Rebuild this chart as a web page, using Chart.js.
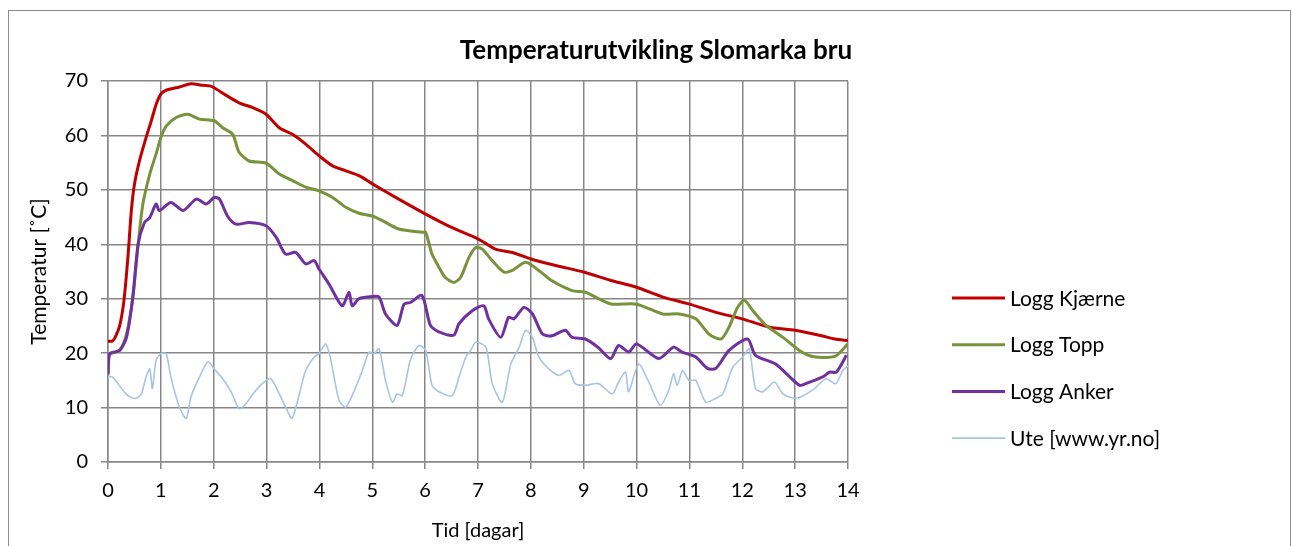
<!DOCTYPE html>
<html lang="no">
<head>
<meta charset="UTF-8">
<title>Temperaturutvikling Slomarka bru</title>
<script src="https://cdn.jsdelivr.net/npm/chart.js@4/dist/chart.umd.min.js"></script>
<style>
  html, body { margin: 0; padding: 0; background: #fff; }
  #wrap { position: relative; width: 1293px; height: 546px; }
</style>
</head>
<body>
<div id="wrap"><canvas id="chart" width="1293" height="546"></canvas></div>
<script>
// [dag, temperatur]
var kjarne = [[0,22.2],[0.08,22.2],[0.13,22.8],[0.22,25],[0.3,29.5],[0.38,38],[0.44,46],[0.5,51],[0.6,55.5],[0.72,59.6],[0.82,62.7],[0.91,65.7],[1.0,67.6],[1.1,68.3],[1.35,68.9],[1.57,69.5],[1.79,69.2],[1.92,69.1],[2.0,68.8],[2.23,67.4],[2.48,66],[2.74,65.1],[2.99,63.9],[3.24,61.4],[3.49,60.2],[3.74,58.4],[4.0,56.2],[4.25,54.4],[4.5,53.5],[4.75,52.6],[5.0,51.1],[5.5,48.3],[6.0,45.6],[6.5,43.1],[7.0,41.0],[7.33,39.1],[7.65,38.5],[8.0,37.3],[8.47,36.1],[9.0,34.9],[9.5,33.4],[10.0,32.1],[10.5,30.3],[11.0,29],[11.5,27.5],[12.0,26.3],[12.5,24.8],[13.0,24.2],[13.5,23.2],[13.75,22.6],[14.0,22.3]];
var topp = [[0,15.9],[0.02,19.5],[0.06,19.9],[0.22,20.5],[0.35,23.5],[0.47,30.3],[0.57,40],[0.66,47.4],[0.79,52.9],[0.91,56.6],[1.0,59.6],[1.1,61.7],[1.29,63.3],[1.51,63.9],[1.73,63],[2.01,62.7],[2.17,61.4],[2.36,60.2],[2.48,56.9],[2.67,55.3],[2.99,54.9],[3.24,52.9],[3.49,51.7],[3.74,50.5],[3.99,49.8],[4.25,48.6],[4.5,46.8],[4.75,45.7],[5.0,45.2],[5.2,44.3],[5.5,42.8],[5.95,42.2],[6.01,42.2],[6.13,38.2],[6.26,35.8],[6.38,33.9],[6.54,33],[6.67,33.9],[6.83,37.6],[6.96,39.4],[7.08,39.1],[7.27,37],[7.49,34.9],[7.65,35.2],[7.9,36.7],[8.15,35.2],[8.4,33.3],[8.78,31.5],[9.03,31.2],[9.28,30],[9.54,29],[10.0,29],[10.49,27.2],[10.8,27.2],[11.12,26.3],[11.37,23.5],[11.6,22.6],[11.75,24.8],[11.91,28.4],[12.04,29.7],[12.2,27.8],[12.45,25.1],[12.77,22.9],[13.08,20.5],[13.33,19.4],[13.75,19.4],[14.0,21.7]];
var anker = [[0,16.2],[0.03,19.9],[0.22,20.5],[0.35,22.9],[0.47,30.3],[0.57,40],[0.69,44],[0.79,44.9],[0.91,47.4],[0.97,46.2],[1.19,47.7],[1.42,46.2],[1.67,48.3],[1.86,47.4],[2.01,48.6],[2.11,48.3],[2.26,45.2],[2.42,43.7],[2.67,44],[2.99,43.4],[3.18,41.3],[3.36,38.2],[3.55,38.5],[3.74,36.4],[3.9,37],[3.99,35.5],[4.18,32.7],[4.43,28.7],[4.56,31.2],[4.62,28.7],[4.75,30],[5.0,30.4],[5.13,30.3],[5.25,27.2],[5.47,25.1],[5.6,29],[5.72,29.3],[5.94,30.6],[6.1,25.1],[6.26,23.9],[6.54,23.3],[6.64,25.4],[6.89,27.8],[7.11,28.7],[7.2,26.3],[7.43,22.9],[7.58,26.6],[7.68,26.3],[7.87,28.4],[8.03,27.2],[8.22,23.5],[8.4,23.2],[8.65,24.2],[8.78,22.9],[9.03,22.6],[9.28,21],[9.51,19],[9.66,21.4],[9.85,20.2],[10.0,21.7],[10.42,19],[10.7,21.1],[10.86,20.2],[11.12,19.3],[11.34,17.2],[11.5,17.2],[11.75,20.5],[12.1,22.6],[12.25,19.6],[12.63,18],[13.08,14.1],[13.2,14.4],[13.53,15.7],[13.65,16.5],[13.78,16.5],[13.97,19.6]];
var ute = [[0,15.6],[0.09,15.6],[0.28,13.2],[0.41,12],[0.53,11.7],[0.63,12.5],[0.72,15.6],[0.79,17.1],[0.84,13.5],[0.91,18.7],[1.0,19.9],[1.1,19.9],[1.19,15.6],[1.35,10.1],[1.48,8],[1.57,12],[1.73,15.6],[1.89,18.4],[2.01,17.1],[2.17,15.3],[2.33,12.9],[2.48,9.8],[2.61,10.7],[2.74,12.5],[2.92,14.4],[3.08,15.3],[3.24,12.5],[3.36,10.1],[3.48,8],[3.62,12.5],[3.74,16.8],[3.9,19.3],[3.99,19.9],[4.12,21.7],[4.21,19],[4.37,11.4],[4.5,10.1],[4.69,13.8],[4.81,16.8],[4.94,20.2],[5.03,19.9],[5.13,20.8],[5.25,15],[5.38,11],[5.47,12.5],[5.57,12.2],[5.72,18.7],[5.88,21.4],[6.01,20.5],[6.13,14.1],[6.26,12.9],[6.51,12.2],[6.64,15.6],[6.77,19.3],[6.86,20.5],[6.96,22],[7.15,21.1],[7.27,14.4],[7.46,11],[7.62,18],[7.78,21.1],[7.9,24.2],[8.03,22.9],[8.15,19.3],[8.34,17.1],[8.53,15.9],[8.72,16.8],[8.84,14.4],[9.03,14.1],[9.28,14.4],[9.54,12.5],[9.66,14.7],[9.79,16.5],[9.85,12.9],[10.04,18],[10.23,14.7],[10.45,10.4],[10.61,13.2],[10.7,16.2],[10.77,14.1],[10.87,16.8],[10.99,15],[11.12,15],[11.31,11],[11.5,11.7],[11.63,12.5],[11.82,17.4],[12.01,19.3],[12.13,20.8],[12.25,13.5],[12.39,12.9],[12.61,14.7],[12.77,12.5],[13.02,11.7],[13.33,13.2],[13.58,15.3],[13.77,14.4],[13.9,16.8],[14.0,17.7]];

var seriesNames = ['Logg Kjærne', 'Logg Topp', 'Logg Anker', 'Ute [www.yr.no]'];
var seriesColors = ['#c00000', '#77933c', '#7030a0', '#a6c4e6'];
var seriesWidths = [3, 3, 3, 1.6];
var seriesData = [kjarne, topp, anker, ute];

var FONT = 'Lato, "Open Sans", sans-serif';

function toXY(arr) {
  return arr.map(function (p) { return { x: p[0], y: p[1] }; });
}

var datasets = seriesData.map(function (d, i) {
  return {
    label: seriesNames[i],
    data: toXY(d),
    borderColor: seriesColors[i],
    backgroundColor: seriesColors[i],
    borderWidth: seriesWidths[i],
    pointRadius: 0,
    tension: 0.25,
    fill: false
  };
}).reverse(); // draw Ute underneath

// frame, title and legend the Excel way
var extras = {
  id: 'extras',
  beforeDraw: function (chart) {
    var c = chart.ctx;
    c.save();
    c.fillStyle = '#fff';
    c.fillRect(0, 0, chart.width, chart.height);
    c.strokeStyle = '#8c8c8c';
    c.lineWidth = 1;
    c.strokeRect(8.5, 10.5, 1282, 560);
    c.restore();
  },
  afterDraw: function (chart) {
    var c = chart.ctx;
    c.save();
    c.fillStyle = '#000';
    c.textAlign = 'center';
    c.textBaseline = 'middle';
    c.font = 'bold 26px ' + FONT;
    c.fillText('Temperaturutvikling Slomarka bru', 656, 51);

    c.font = '21px ' + FONT;
    c.textAlign = 'left';
    for (var i = 0; i < seriesNames.length; i++) {
      var y = 298 + i * 46.7;
      c.strokeStyle = seriesColors[i];
      c.lineWidth = seriesWidths[i];
      c.beginPath();
      c.moveTo(952, y);
      c.lineTo(1005, y);
      c.stroke();
      c.fillText(seriesNames[i], 1010, y + 1);
    }
    c.restore();
  }
};

new Chart(document.getElementById('chart'), {
  type: 'line',
  data: { datasets: datasets },
  options: {
    responsive: false,
    animation: false,
    layout: { padding: { top: 81, right: 445, bottom: 0, left: 0 } },
    plugins: {
      legend: { display: false },
      title: { display: false },
      tooltip: { enabled: false }
    },
    scales: {
      x: {
        type: 'linear',
        min: 0,
        max: 14,
        ticks: { stepSize: 1, color: '#000', font: { family: FONT, size: 20 }, padding: 10, maxRotation: 0 },
        grid: { color: '#878787', lineWidth: 1.5, tickLength: 7, drawTicks: true },
        border: { color: '#878787', width: 1.5 },
        title: { display: true, text: 'Tid [dagar]', color: '#000', font: { family: FONT, size: 20 }, padding: { top: 0, bottom: 3 } },
        afterFit: function (s) { s.height = 84; }
      },
      y: {
        min: 0,
        max: 70,
        ticks: { stepSize: 10, color: '#000', font: { family: FONT, size: 20 }, padding: 13 },
        grid: { color: '#878787', lineWidth: 1.5, tickLength: 7 },
        border: { color: '#878787', width: 1.5 },
        title: { display: true, text: 'Temperatur [˚C]', color: '#000', font: { family: FONT, size: 21 }, padding: { top: 27, bottom: 0 } },
        afterFit: function (s) { s.width = 108; }
      }
    }
  },
  plugins: [extras]
});
</script>
</body>
</html>
